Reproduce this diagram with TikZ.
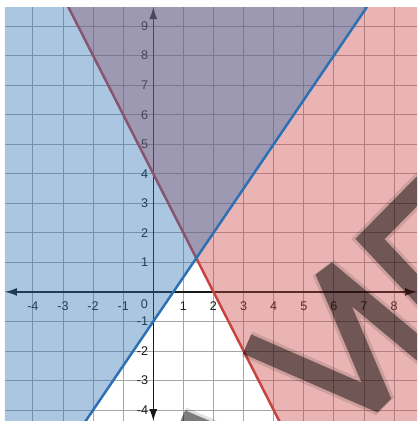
\documentclass[tikz,border=0pt]{standalone}
\usepackage{fontspec}
\setsansfont{Liberation Sans}
\usetikzlibrary{arrows.meta}
\definecolor{graphblue}{HTML}{2D70B3}
\definecolor{graphred}{HTML}{C74440}

\begin{document}
\begin{tikzpicture}[x=30.1pt, y=29.54pt,
    gridline/.style={black!35, line width=0.9pt},
    axisline/.style={black!90, line width=1.4pt, {Latex[length=12pt,width=8pt]}-{Latex[length=12pt,width=8pt]}},
    ticklabel/.style={font=\sffamily\fontsize{12.6}{14}\selectfont, text=black!90, inner sep=0pt},
    region/.style={fill opacity=0.4},
    boundary/.style={line width=2.5pt},
    markstroke/.style={black, line cap=butt}]

    \useasboundingbox (-5.093,-4.370) rectangle (8.761,9.882);
    \clip (-4.927,-4.370) rectangle (8.761,9.644);

    % grid
    \foreach \x in {-4,...,8}
        \draw[gridline] (\x,-4.370) -- (\x,9.644);
    \foreach \y in {-4,...,9}
        \draw[gridline] (-4.927,\y) -- (8.761,\y);

    % axes
    \coordinate (xmin) at (-4.927,0);
    \coordinate (xmax) at (8.761,0);
    \coordinate (ymin) at (0,-4.370);
    \coordinate (ymax) at (0,9.644);
    \draw[axisline] (xmin) -- (xmax);
    \draw[axisline] (ymin) -- (ymax);

    % tick labels
    \foreach \x in {-4,-3,-2,-1,1,2,3,4,5,6,7,8}
        \node[ticklabel] (xl\x) at ([yshift=-14pt]\x,0) {\x};
    \foreach \y in {-4,-3,-2,-1,1,2,3,4,5,6,7,8,9}
        \node[ticklabel, anchor=east] (yl\y) at ([xshift=-5pt]0,\y) {\y};
    \node[ticklabel] (orig) at ([xshift=-9pt,yshift=-12.5pt]0,0) {0};

    % y >= -2x+4
    \coordinate (redtop) at (-3,10);
    \coordinate (redbot) at (4.5,-5);
    \fill[graphred, region] (-2.822,9.644) -- (8.761,9.644) -- (8.761,-4.370) -- (4.185,-4.370) -- cycle;
    \draw[graphred, boundary] (redtop) -- (redbot);

    % y >= 1.5x-1
    \coordinate (bluetop) at (7.333,10);
    \coordinate (bluebot) at (-2.667,-5);
    \fill[graphblue, region] (-4.927,9.644) -- (7.096,9.644) -- (-2.247,-4.370) -- (-4.927,-4.370) -- cycle;
    \draw[graphblue, boundary] (bluetop) -- (bluebot);

    % watermark
    \begin{scope}[shift={(-153.3pt,291.9pt)}, x=1pt, y=-1pt]
        \foreach \w/\o in {27pt/0.12, 21pt/0.45} {
            \draw[markstroke, line width=\w, draw opacity=\o, line join=bevel]
                (247,344) -- (381.6,402.8) -- (325.2,270.4) -- (445,370.3);
            \draw[markstroke, line width=\w, draw opacity=\o, line join=miter]
                (430,178) -- (370,239) -- (432,305);
            \draw[markstroke, line width=\w, draw opacity=\o] (181,420) -- (260,454);
        }
    \end{scope}
\end{tikzpicture}
\end{document}
